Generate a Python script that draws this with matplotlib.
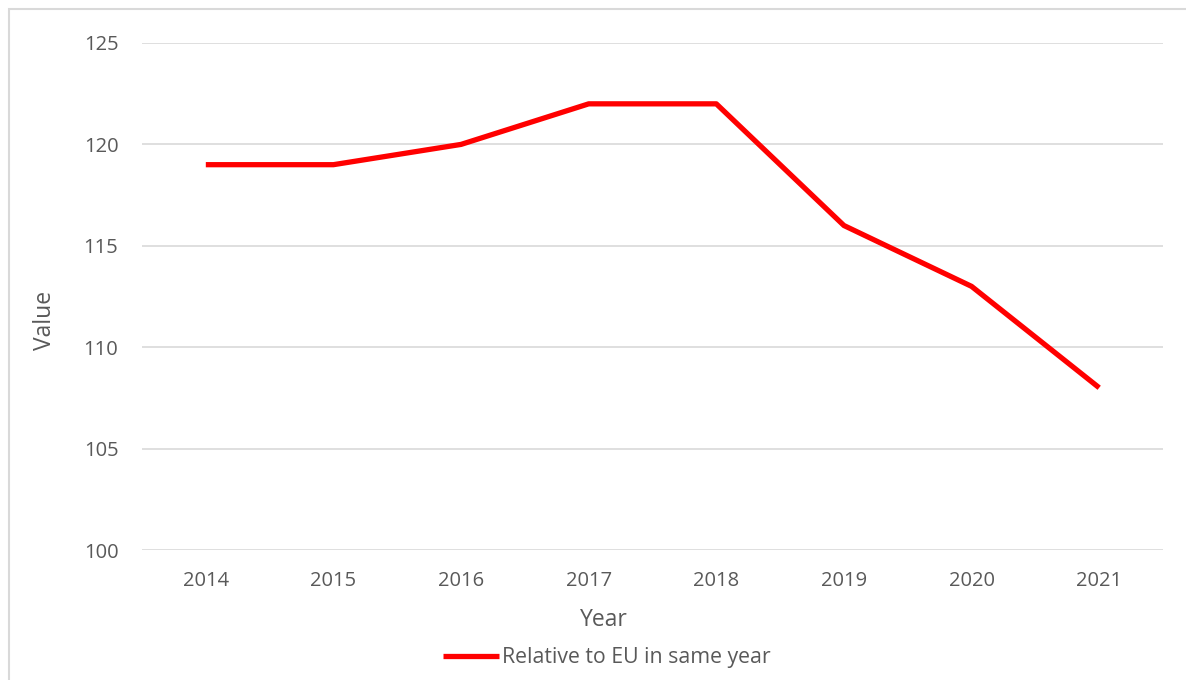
import matplotlib.pyplot as plt
from matplotlib.patches import Rectangle

years = ['2014', '2015', '2016', '2017', '2018', '2019', '2020', '2021']
values = [119, 119, 120, 122, 122, 116, 113, 108]
series_label = 'Relative to EU in same year'

plt.rcParams['font.family'] = ['Open Sans', 'DejaVu Sans']
txt = '#595959'

fig = plt.figure(figsize=(11.86, 6.8), dpi=100)
fig.patches.append(Rectangle((9 / 1186, -0.01), 1.2, 1 - 9 / 680 + 0.01,
                             transform=fig.transFigure, fill=False,
                             edgecolor='#d9d9d9', linewidth=1.5))

ax = fig.add_axes([142 / 1186, 1 - 550 / 680, (1163 - 142) / 1186, (550 - 43) / 680])
x = list(range(len(years)))
ax.plot(x, values, color='#ff0000', linewidth=3.8, solid_capstyle='butt',
        label=series_label)

ax.set_xlim(-0.5, len(years) - 0.5)
ax.set_ylim(100, 125)
ax.set_yticks(range(100, 126, 5))
ax.set_xticks(x)
ax.set_xticklabels(years)
ax.grid(axis='y', color='#d9d9d9', linewidth=1.2)
ax.set_axisbelow(True)
for s in ax.spines.values():
    s.set_visible(False)
ax.tick_params(length=0, labelsize=14.5, colors=txt, pad=15)
ax.tick_params(axis='y', pad=17)

fig.text(604 / 1186, 1 - 620 / 680, 'Year', ha='center', va='center',
         fontsize=16.5, color=txt)
fig.text(45 / 1186, 1 - 320 / 680, 'Value', ha='center', va='center',
         rotation=90, fontsize=16.5, color=txt)

fig.legend(loc='center', bbox_to_anchor=(607 / 1186, 1 - 658 / 680), frameon=False,
           fontsize=15.3, labelcolor=txt, handlelength=2.6, handletextpad=0.15)

fig.savefig('out.png', dpi=100)
